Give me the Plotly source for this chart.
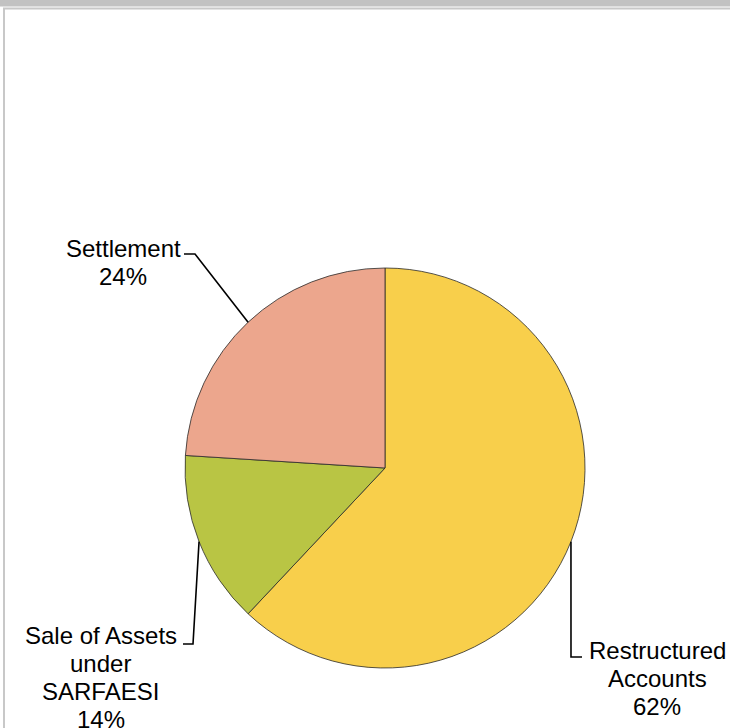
import math
import plotly.graph_objects as go

categories = ["Restructured Accounts", "Sale of Assets under SARFAESI", "Settlement"]
values = [62, 14, 24]
label_lines = [["Restructured", "Accounts", "62%"],
               ["Sale of Assets", "under", "SARFAESI", "14%"],
               ["Settlement", "24%"]]
colors = ["#F8CF4B", "#B9C544", "#ECA68D"]

W, H = 730, 728
CX, CY, R = 385, 468, 200

def px(x):
    return x / W

def py(y):
    return 1 - y / H

fig = go.Figure(go.Pie(
    labels=categories, values=values, sort=False, direction="clockwise", rotation=0,
    marker=dict(colors=colors, line=dict(color="#2a2a2a", width=0.8)),
    textinfo="none", hoverinfo="label+percent", showlegend=False,
    domain=dict(x=[px(CX - R), px(CX + R)], y=[py(CY + R), py(CY - R)]),
))

# label layout: (center x, first line y, elbow points after arc point)
label_pos = [
    (657, 650, [(571, 657), (582, 657)]),
    (101, 635, [(193, 644), (183, 644)]),
    (123, 248, [(195, 254), (184, 254)]),
]

shapes = []
annotations = []
total = sum(values)
cum = 0
for i, v in enumerate(values):
    mid = (cum + v / 2) / total * 2 * math.pi
    cum += v
    ax = CX + R * math.sin(mid)
    ay = CY - R * math.cos(mid)
    lx, ly, elbow = label_pos[i]
    pts = [(ax, ay)] + elbow
    path = "M " + " L ".join(f"{px(x)},{py(y)}" for x, y in pts)
    shapes.append(dict(type="path", path=path, xref="paper", yref="paper",
                       line=dict(color="black", width=1.6)))
    for j, t in enumerate(label_lines[i]):
        annotations.append(dict(text=t, x=px(lx), y=py(ly + 28 * j), xref="paper", yref="paper",
                                showarrow=False, xanchor="center", yanchor="middle",
                                font=dict(family="Liberation Sans, Arial", size=24, color="black")))

# frame
shapes += [
    dict(type="rect", xref="paper", yref="paper", x0=0, x1=1, y0=py(6.5), y1=1,
         fillcolor="#C2C2C2", line=dict(width=0), layer="below"),
    dict(type="line", xref="paper", yref="paper", x0=px(3), x1=1, y0=py(8.5), y1=py(8.5),
         line=dict(color="#C8C8C8", width=2)),
    dict(type="line", xref="paper", yref="paper", x0=px(4), x1=px(4), y0=py(8), y1=0,
         line=dict(color="#C8C8C8", width=2)),
]

fig.update_layout(width=W, height=H, margin=dict(l=0, r=0, t=0, b=0),
                  paper_bgcolor="white", plot_bgcolor="white",
                  shapes=shapes, annotations=annotations)
fig.write_html("out.html", config={"displayModeBar": False},
               post_script="document.body.style.margin='0';document.body.style.overflow='hidden';")
